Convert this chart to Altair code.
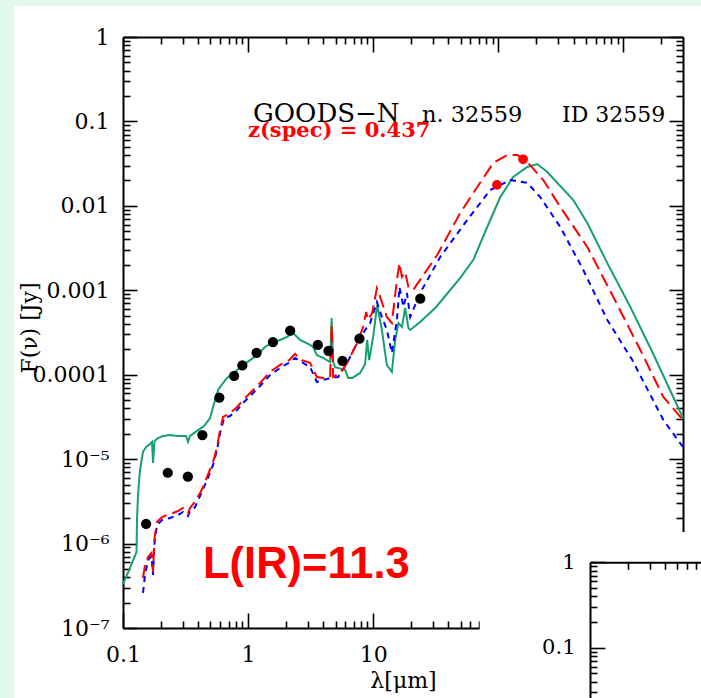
import json
import altair as alt
import pandas as pd

# ---------------- values ----------------
# photometry (black dots)
PHOT_LAMBDA = [0.153, 0.228, 0.330, 0.431, 0.589, 0.773, 0.900, 1.17, 1.58, 2.17,
               3.61, 4.39, 5.68, 7.77, 23.8]
PHOT_FLUX = [1.71e-6, 6.9e-6, 6.2e-6, 1.93e-5, 5.35e-5, 9.66e-5, 1.29e-4, 1.82e-4,
             2.44e-4, 3.32e-4, 2.25e-4, 1.92e-4, 1.46e-4, 2.67e-4, 7.95e-4]

# far-IR points (red dots)
PEAK_LAMBDA = [97.6, 158.0]
PEAK_FLUX = [0.0177, 0.0356]

# solid green template
GREEN_LAMBDA = [0.1, 0.1138, 0.1282, 0.1294, 0.1318, 0.1368, 0.1445, 0.1528, 0.1644, 0.1706,
                0.1738, 0.1787, 0.1905, 0.2089, 0.2377, 0.2754, 0.3192, 0.3311, 0.3436, 0.3908,
                0.4446, 0.4966, 0.5248, 0.5546, 0.5754, 0.6310, 0.6792, 0.7870, 0.9120, 1.038,
                1.180, 1.393, 1.585, 1.803, 2.051, 2.291, 2.606, 3.133, 3.311, 3.545,
                3.981, 4.529, 4.656, 4.786, 4.966, 5.970, 6.310, 6.792, 7.870, 8.630,
                8.954, 9.290, 10.0, 10.77, 11.74, 12.87, 14.11, 15.00, 15.93, 16.98,
                18.03, 19.15, 19.77, 23.77, 31.9, 49.66, 63.10, 81.66, 103.8, 131.8,
                170.6, 205.1, 246.6, 398.1, 515.2, 744.7, 1138, 1706, 3000]
GREEN_FLUX = [3.32e-7, 5.14e-7, 7.95e-7, 1.90e-6, 3.76e-6, 7.44e-6, 1.22e-5, 1.39e-5, 1.51e-5, 1.60e-5,
              9.0e-6, 1.64e-5, 1.78e-5, 1.88e-5, 1.93e-5, 1.88e-5, 1.88e-5, 1.60e-5, 1.88e-5, 2.16e-5,
              2.47e-5, 3.07e-5, 4.15e-5, 5.45e-5, 6.59e-5, 7.98e-5, 9.14e-5, 1.08e-4, 1.30e-4, 1.49e-4,
              1.71e-4, 2.19e-4, 2.38e-4, 2.58e-4, 2.80e-4, 3.12e-4, 2.58e-4, 2.25e-4, 2.13e-4, 1.71e-4,
              1.58e-4, 1.41e-4, 4.70e-4, 1.41e-4, 1.23e-4, 1.14e-4, 9.14e-5, 9.14e-5, 1.05e-4, 1.34e-4,
              2.58e-4, 1.49e-4, 2.80e-4, 6.70e-4, 3.39e-4, 1.30e-4, 1.08e-4, 2.58e-4, 4.10e-4, 3.67e-4,
              6.17e-4, 3.57e-4, 3.39e-4, 4.21e-4, 6.34e-4, 1.40e-3, 2.28e-3, 5.62e-3, 1.27e-2, 2.20e-2,
              2.89e-2, 3.13e-2, 2.52e-2, 1.17e-2, 6.27e-3, 2.10e-3, 6.34e-4, 1.86e-4, 3.07e-5]

# red long-dashed template
RED_LAMBDA = [0.1445, 0.1500, 0.1585, 0.1690, 0.1738, 0.1787, 0.1871, 0.2051, 0.2249, 0.2512,
              0.2754, 0.3020, 0.3311, 0.3436, 0.3698, 0.4130, 0.4365, 0.4699, 0.5248, 0.5649,
              0.5970, 0.6310, 0.7178, 0.8166, 0.9120, 1.096, 1.247, 1.500, 1.905, 2.128,
              2.377, 2.689, 3.133, 3.545, 3.981, 4.529, 4.656, 4.786, 5.445, 6.194,
              7.447, 8.318, 8.790, 9.120, 9.817, 10.71, 11.38, 12.87, 14.11, 15.49,
              16.23, 16.98, 18.03, 19.15, 20.89, 32.51, 49.66, 67.92, 91.20, 118.0,
              141.9, 170.6, 229.1, 313.3, 515.2, 831.8, 1368, 2089, 3000]
RED_FLUX = [3.91e-7, 5.57e-7, 6.93e-7, 7.73e-7, 4.61e-7, 1.16e-6, 1.80e-6, 2.06e-6, 2.18e-6, 2.30e-6,
            2.43e-6, 2.64e-6, 2.30e-6, 2.64e-6, 3.03e-6, 3.97e-6, 4.68e-6, 6.15e-6, 9.25e-6, 1.39e-5,
            2.21e-5, 3.16e-5, 3.52e-5, 4.15e-5, 5.02e-5, 6.59e-5, 7.98e-5, 1.08e-4, 1.38e-4, 1.49e-4,
            1.76e-4, 1.49e-4, 1.38e-4, 9.40e-5, 9.14e-5, 9.40e-5, 3.88e-4, 9.40e-5, 1.05e-4, 1.38e-4,
            2.38e-4, 3.67e-4, 5.53e-4, 4.45e-4, 5.38e-4, 1.06e-3, 8.33e-4, 4.83e-4, 4.10e-4, 1.32e-3,
            2.10e-3, 1.44e-3, 1.65e-3, 1.09e-3, 1.01e-3, 2.62e-3, 8.23e-3, 1.67e-2, 3.22e-2, 4.00e-2,
            4.00e-2, 3.31e-2, 2.02e-2, 9.70e-3, 3.26e-3, 8.33e-4, 1.96e-4, 5.45e-5, 2.91e-5]

# blue short-dashed template
BLUE_LAMBDA = [0.1445, 0.1500, 0.1585, 0.1690, 0.1738, 0.1787, 0.1871, 0.2051, 0.2377, 0.2754,
               0.3020, 0.3311, 0.3436, 0.3767, 0.4130, 0.4699, 0.5248, 0.5649, 0.5970, 0.6427,
               0.7178, 0.8166, 0.9120, 1.096, 1.247, 1.500, 1.905, 2.128, 2.377, 2.689,
               3.133, 3.545, 3.981, 4.529, 5.248, 6.194, 7.447, 8.630, 9.462, 10.71,
               11.74, 12.87, 14.11, 15.49, 16.23, 17.46, 18.62, 19.77, 23.77, 34.36,
               56.49, 86.30, 124.7, 170.6, 216.8, 313.3, 478.6, 744.7, 1180, 2089, 3000]
BLUE_FLUX = [2.60e-7, 4.25e-7, 6.39e-7, 7.13e-7, 4.25e-7, 1.04e-6, 1.66e-6, 1.90e-6, 2.01e-6, 2.18e-6,
             2.37e-6, 2.12e-6, 2.43e-6, 2.71e-6, 3.66e-6, 5.66e-6, 8.53e-6, 1.28e-5, 2.04e-5, 3.07e-5,
             3.24e-5, 3.82e-5, 4.62e-5, 6.08e-5, 7.35e-5, 9.93e-5, 1.27e-4, 1.38e-4, 1.58e-4, 1.41e-4,
             1.23e-4, 8.20e-5, 8.66e-5, 9.14e-5, 9.40e-5, 1.38e-4, 2.38e-4, 3.39e-4, 4.10e-4, 7.26e-4,
             4.83e-4, 3.39e-4, 1.81e-4, 4.45e-4, 1.09e-3, 6.34e-4, 9.29e-4, 4.83e-4, 9.29e-4, 2.48e-3,
             6.80e-3, 1.54e-2, 2.02e-2, 1.87e-2, 1.27e-2, 5.62e-3, 1.74e-3, 4.45e-4, 1.49e-4, 2.91e-5,
             1.39e-5]

# axis ticks and labels
X_DECADES = [0.1, 1, 10, 100, 1000]
X_DECADE_LABELS = ["0.1", "1", "10", "100", "1000"]
Y_DECADES = [1e-7, 1e-6, 1e-5, 1e-4, 1e-3, 1e-2, 1e-1, 1]
Y_DECADE_LABELS = ["10⁻⁷", "10⁻⁶", "10⁻⁵", "0.0001", "0.001", "0.01", "0.1", "1"]
MINOR_STEPS = [2, 3, 4, 5, 6, 7, 8, 9]
X_TICKS = X_DECADES + [m * d for d in X_DECADES[:4] for m in MINOR_STEPS] + [2000]
Y_TICKS = Y_DECADES + [m * d for d in Y_DECADES[:7] for m in MINOR_STEPS]

# second (partly visible) panel in the lower right corner
INSET_PANEL_LAMBDA = [0.0131, 0.773]
INSET_PANEL_FLUX = [2.26, 0.0258]
INSET_Y_DECADES = [0.1, 1]
INSET_Y_LABELS = ["0.1", "1"]
INSET_X_TICKS = [0.2, 0.3, 0.4, 0.5, 0.6, 0.7]
INSET_Y_TICKS = [0.03, 0.04, 0.05, 0.06, 0.07, 0.08, 0.09, 0.1,
                 0.2, 0.3, 0.4, 0.5, 0.6, 0.7, 0.8, 0.9, 1.0]

# ---------------- styling ----------------
W, H = 560, 591
SERIF = "DejaVu Serif"
BG_GREEN = "#e0f9eb"
GREEN = "#17a06c"
RED = "#ff0000"
BLUE = "#0000ff"

LOG10 = "(log(datum.value) / LN10)"
IS_MAJOR = f"abs({LOG10} - round({LOG10})) < 0.01"


def tick_len(major, minor):
    return {"condition": {"test": IS_MAJOR, "value": major}, "value": minor}


def label_expr(labels, offset):
    return f"{json.dumps(labels, ensure_ascii=False)}[round({LOG10}) + {offset}]"


LINE_STYLE = dict(domainColor="black", domainWidth=2, tickColor="black", tickWidth=1.6, grid=False)

X_SCALE = alt.Scale(type="log", domain=[0.1, 3000], nice=False)
Y_SCALE = alt.Scale(type="log", domain=[1e-7, 1], nice=False)

ax_bottom_labels = alt.Axis(
    orient="bottom", values=X_DECADES, labelExpr=label_expr(X_DECADE_LABELS, 1),
    ticks=False, tickSize=0, domain=True, labelFont=SERIF, labelFontSize=22,
    labelColor="black", labelPadding=16, labelFlush=False, labelOverlap=False,
    title="λ[μm]", titleFont=SERIF, titleFontSize=22, titleFontWeight="normal",
    titleColor="black", titleX=W / 2, titleY=52, titleAlign="center",
    titleBaseline="middle", zindex=0, **LINE_STYLE)
ax_left_labels = alt.Axis(
    orient="left", values=Y_DECADES, labelExpr=label_expr(Y_DECADE_LABELS, 7),
    ticks=False, tickSize=0, domain=True, labelFont=SERIF, labelFontSize=22,
    labelColor="black", labelPadding=14, labelOverlap=False,
    title="F(ν) [Jy]", titleFont=SERIF, titleFontSize=22, titleFontWeight="normal",
    titleColor="black", titleX=-94, titleY=290.5, titleAngle=270, titleAlign="center",
    titleBaseline="middle", zindex=0, **LINE_STYLE)
ax_bottom_ticks = alt.Axis(orient="top", offset=-H, values=X_TICKS, tickSize=tick_len(15, 7),
                           labels=False, domain=False, title=None, zindex=0, **LINE_STYLE)
ax_left_ticks = alt.Axis(orient="right", offset=-W, values=Y_TICKS, tickSize=tick_len(14, 7),
                         labels=False, domain=False, title=None, zindex=0, **LINE_STYLE)
ax_top = alt.Axis(orient="bottom", offset=-H, values=X_TICKS, tickSize=tick_len(15, 7),
                  labels=False, domain=True, title=None, zindex=0, **LINE_STYLE)
ax_right = alt.Axis(orient="left", offset=-W, values=Y_TICKS, tickSize=tick_len(14, 7),
                    labels=False, domain=True, title=None, zindex=0, **LINE_STYLE)

green_df = pd.DataFrame({"lam": GREEN_LAMBDA, "flux": GREEN_FLUX})
red_df = pd.DataFrame({"lam": RED_LAMBDA, "flux": RED_FLUX})
blue_df = pd.DataFrame({"lam": BLUE_LAMBDA, "flux": BLUE_FLUX})
phot_df = pd.DataFrame({"lam": PHOT_LAMBDA, "flux": PHOT_FLUX})
peak_df = pd.DataFrame({"lam": PEAK_LAMBDA, "flux": PEAK_FLUX})


def xy(ax_x, ax_y):
    return dict(x=alt.X("lam:Q", scale=X_SCALE, axis=ax_x),
                y=alt.Y("flux:Q", scale=Y_SCALE, axis=ax_y))


one_row = pd.DataFrame({"k": [0]})

strip_left = alt.Chart(one_row).mark_rect(color=BG_GREEN).encode(
    x=alt.value(-123), x2=alt.value(-109), y=alt.value(-37), y2=alt.value(661))
strip_top = alt.Chart(one_row).mark_rect(color=BG_GREEN).encode(
    x=alt.value(-123), x2=alt.value(578), y=alt.value(-37), y2=alt.value(-31))

green_line = alt.Chart(green_df).mark_line(color=GREEN, strokeWidth=2).encode(
    **xy(ax_bottom_labels, ax_left_labels))
blue_line = alt.Chart(blue_df).mark_line(color=BLUE, strokeWidth=2, strokeDash=[6, 5]).encode(
    **xy(ax_bottom_ticks, ax_left_ticks))
red_line = alt.Chart(red_df).mark_line(color=RED, strokeWidth=2, strokeDash=[13, 6]).encode(
    **xy(ax_top, ax_right))
phot_pts = alt.Chart(phot_df).mark_circle(color="black", size=105, opacity=1).encode(
    **xy(None, None))
peak_pts = alt.Chart(peak_df).mark_circle(color=RED, size=95, opacity=1).encode(
    **xy(None, None))


def label(text, x, y, size, color="black", font=SERIF, weight="normal"):
    return alt.Chart(pd.DataFrame({"t": [text]})).mark_text(
        align="left", baseline="alphabetic", font=font, fontSize=size,
        fontWeight=weight, color=color).encode(text="t:N", x=alt.value(x), y=alt.value(y))


texts = [
    label("GOODS−N", 130, 85, 26),
    label("n. 32559", 299, 85, 22.5),
    label("ID 32559", 439, 85, 22),
    label("z(spec) = 0.437", 125, 100, 21, color=RED, weight="bold"),
    label("L(IR)=11.3", 80, 541, 43.5, color=RED, font="Liberation Sans", weight="bold"),
]

main = alt.layer(strip_left, strip_top, green_line, blue_line, red_line, phot_pts, peak_pts,
                 *texts).resolve_axis(x="independent", y="independent")

# ---------------- inset panel ----------------
IX_SCALE = alt.Scale(type="log", domain=[0.1, 0.773], range=[467, 578], nice=False)
IY_SCALE = alt.Scale(type="log", domain=[0.0258, 1], range=[661, 525.3], nice=False)
inset_df = pd.DataFrame({"lam": [INSET_PANEL_LAMBDA[0]], "lam2": [INSET_PANEL_LAMBDA[1]],
                         "flux": [INSET_PANEL_FLUX[0]], "flux2": [INSET_PANEL_FLUX[1]]})

iax_top = alt.Axis(orient="bottom", offset=-(H - 525.3), values=INSET_X_TICKS, tickSize=7,
                   labels=False, domain=True, title=None, zindex=1, **LINE_STYLE)
iax_left = alt.Axis(orient="left", offset=-467, values=INSET_Y_DECADES,
                    labelExpr=label_expr(INSET_Y_LABELS, 1), ticks=False, tickSize=0,
                    domain=True, labelFont=SERIF, labelFontSize=21, labelColor="black",
                    labelPadding=15, labelOverlap=False, title=None, zindex=1, **LINE_STYLE)
iax_ticks = alt.Axis(orient="right", offset=-(W - 467), values=INSET_Y_TICKS,
                     tickSize=tick_len(15, 7), labels=False, domain=False, title=None,
                     zindex=1, **LINE_STYLE)

inset_panel = alt.Chart(inset_df).mark_rect(color="white").encode(
    x=alt.X("lam:Q", scale=IX_SCALE, axis=iax_top), x2="lam2:Q",
    y=alt.Y("flux:Q", scale=IY_SCALE, axis=iax_left), y2="flux2:Q")
inset_ticks = alt.Chart(inset_df).mark_rect(opacity=0).encode(
    x=alt.X("lam:Q", scale=IX_SCALE, axis=None), x2="lam2:Q",
    y=alt.Y("flux:Q", scale=IY_SCALE, axis=iax_ticks), y2="flux2:Q")
inset = alt.layer(inset_panel, inset_ticks).resolve_axis(x="independent", y="independent")

chart = alt.layer(main, inset).resolve_scale(x="independent", y="independent").properties(
    width=W, height=H, background="white",
    padding={"left": 123, "top": 37, "right": 18, "bottom": 70},
    autosize=alt.AutoSizeParams(type="none"),
).configure_view(stroke=None)

chart.save("out.html", embed_options={"renderer": "svg", "actions": False})
